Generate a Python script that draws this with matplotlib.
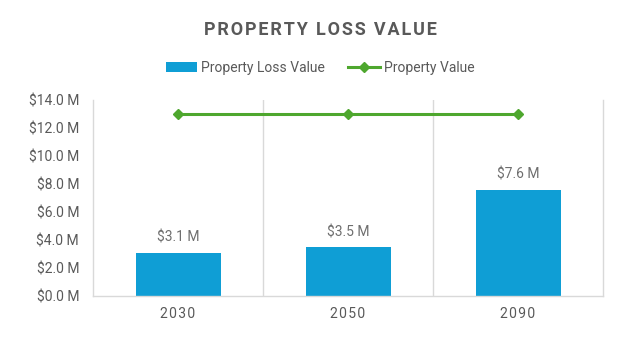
import matplotlib.pyplot as plt
from matplotlib.ticker import FuncFormatter

plt.rcParams['font.family'] = ['Roboto', 'DejaVu Sans']

years = ['2030', '2050', '2090']
loss_values = [3.1, 3.5, 7.6]
property_values = [13.0, 13.0, 13.0]

bar_color = '#0F9ED5'
line_color = '#4EA72E'
text_color = '#595959'
grid_color = '#D9D9D9'


def spaced(s, sep='\u200a'):
    return sep.join(s)


fig = plt.figure(figsize=(6.4, 3.42), dpi=100)
ax = fig.add_axes([93 / 640, 46 / 342, 510 / 640, 196 / 342])

x = list(range(len(years)))
bars = ax.bar(x, loss_values, width=0.5, color=bar_color, label='Property Loss Value', zorder=2)
line, = ax.plot(x, property_values, color=line_color, lw=2.2, marker='D', ms=5.5,
                label='Property Value', zorder=3)

for xi, v in zip(x, loss_values):
    ax.text(xi, v + 0.55, '${:.1f} M'.format(v), ha='center', va='bottom',
            fontsize=10, color='#6E6E6E')

ax.set_xlim(-0.5, len(years) - 0.5)
ax.set_ylim(0, 14)
ax.set_yticks(range(0, 15, 2))
ax.yaxis.set_major_formatter(FuncFormatter(lambda v, p: '${:.1f} M'.format(v)))
ax.set_xticks(x)
ax.set_xticklabels([spaced(y) for y in years])

for b in [0.5, 1.5]:
    ax.axvline(b, color=grid_color, lw=1, zorder=1)

ax.spines['top'].set_visible(False)
for side in ['left', 'right', 'bottom']:
    ax.spines[side].set_color(grid_color)
    ax.spines[side].set_linewidth(1)

ax.tick_params(axis='both', length=0, labelsize=10, colors=text_color)
ax.tick_params(axis='x', pad=8)
ax.tick_params(axis='y', pad=10)

title = '\u2009 '.join(spaced(w) for w in 'PROPERTY LOSS VALUE'.split())
fig.text(0.5, 1 - 30 / 342, title, ha='center', va='center', fontsize=13,
         fontweight='bold', color=text_color)

fig.legend([bars, line], ['Property Loss Value', 'Property Value'], loc='center',
           bbox_to_anchor=(0.5, 1 - 68 / 342), ncol=2, frameon=False,
           fontsize=10, labelcolor=text_color, handlelength=2.25, columnspacing=1.7,
           handletextpad=0.3)

fig.savefig('out.png', dpi=100)
